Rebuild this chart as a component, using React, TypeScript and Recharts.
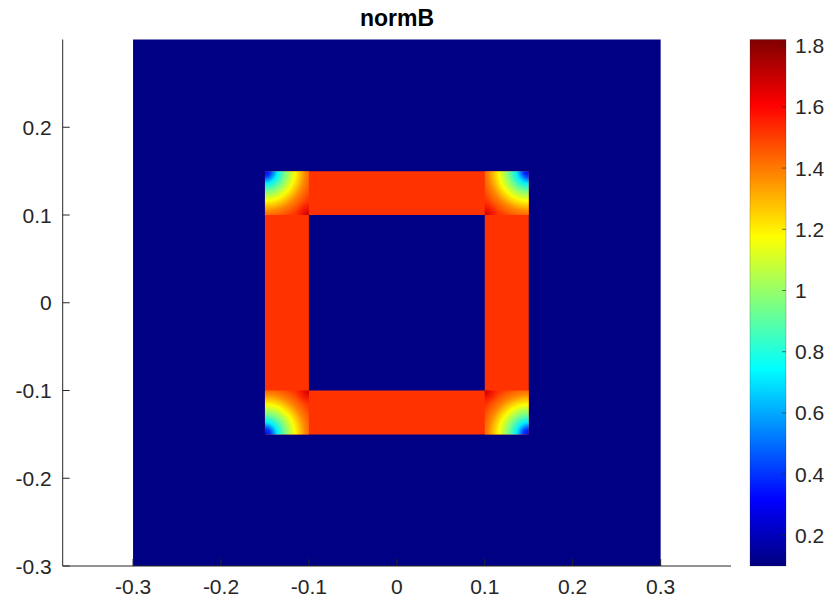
import React from "react";
import { ComposedChart, XAxis, YAxis, ReferenceArea } from "recharts";

// axes
const xTicks = [-0.3, -0.2, -0.1, 0, 0.1, 0.2, 0.3];
const yTicks = [-0.3, -0.2, -0.1, 0, 0.1, 0.2];
const barTicks = [0.2, 0.4, 0.6, 0.8, 1, 1.2, 1.4, 1.6, 1.8];
const xLimits = [-0.38, 0.38];
const yLimits = [-0.3, 0.3];
const cLimits = [0.1, 1.82];

// |B| levels of the regions
const backgroundB = 0.11;
const frameB = 1.52;
const domainBox = [-0.3, 0.3];
const frameOuter = [-0.15, 0.15];
const frameInner = [-0.1, 0.1];

// |B| going in from the outer corner of the frame (distance in corner widths)
const cornerDist = [0, 0.12, 0.28, 0.48, 0.68, 0.92, 1.15, 1.3, 1.414];
const cornerB = [0.28, 0.4, 0.72, 0.97, 1.17, 1.38, 1.5, 1.55, 1.6];
// hot spot at the inner corner
const spotDist = [0, 0.12, 0.32];
const spotB = [1.74, 1.67, 1.6];
const spotAlpha = [0.85, 0.55, 0];

const AXIS = "#262626";
const FONT = "'Liberation Sans', Arial, sans-serif";
const FS = 21;
const TICK_LEN = 7;

const clamp = (v: number) => Math.max(0, Math.min(1, v));

// MATLAB jet colormap
function jetT(t: number) {
  const r = clamp(1.5 - Math.abs(4 * t - 3));
  const g = clamp(1.5 - Math.abs(4 * t - 2));
  const b = clamp(1.5 - Math.abs(4 * t - 1));
  return `rgb(${Math.round(r * 255)},${Math.round(g * 255)},${Math.round(b * 255)})`;
}
const jet = (v: number) => jetT(clamp((v - cLimits[0]) / (cLimits[1] - cLimits[0])));
const jetKnots = [0, 0.125, 0.375, 0.625, 0.875, 1];

// each corner square: outer / inner corner as bounding-box fractions (screen coords)
const corners = [
  { id: "tl", x: [-0.15, -0.1], y: [0.1, 0.15], o: [0, 0], i: [1, 1] },
  { id: "tr", x: [0.1, 0.15], y: [0.1, 0.15], o: [1, 0], i: [0, 1] },
  { id: "bl", x: [-0.15, -0.1], y: [-0.15, -0.1], o: [0, 1], i: [1, 0] },
  { id: "br", x: [0.1, 0.15], y: [-0.15, -0.1], o: [1, 1], i: [0, 0] },
];

const fmt = (v: number) => String(v);

const LeftTick = (p: any) => {
  const ax = p.x + 11;
  return (
    <g>
      <line x1={ax} x2={ax + TICK_LEN} y1={p.y} y2={p.y} stroke={AXIS} />
      <text x={p.x} y={p.y} textAnchor="end" dominantBaseline="central" fill={AXIS} fontSize={FS} fontFamily={FONT}>
        {fmt(p.payload.value)}
      </text>
    </g>
  );
};

const BottomTick = (p: any) => {
  const ay = p.y - 20;
  return (
    <g>
      <line x1={p.x} x2={p.x} y1={ay} y2={ay - TICK_LEN} stroke={AXIS} />
      <text x={p.x} y={p.y} textAnchor="middle" dominantBaseline="central" fill={AXIS} fontSize={FS} fontFamily={FONT}>
        {fmt(p.payload.value)}
      </text>
    </g>
  );
};

const BarTick = (p: any) => {
  const ax = p.x - 9;
  return (
    <g>
      <line x1={ax} x2={ax - 4} y1={p.y} y2={p.y} stroke={AXIS} strokeOpacity={0.6} />
      <text x={p.x} y={p.y} textAnchor="start" dominantBaseline="central" fill={AXIS} fontSize={FS} fontFamily={FONT}>
        {fmt(p.payload.value)}
      </text>
    </g>
  );
};

function FieldMap() {
  return (
    <ComposedChart width={830} height={606} margin={{ top: 39.5, right: 99, bottom: 0, left: 0 }}>
      <defs>
        {corners.map((c) => (
          <radialGradient key={c.id} id={`corner-${c.id}`} cx={c.o[0]} cy={c.o[1]} r={1.414} fx={c.o[0]} fy={c.o[1]}>
            {cornerDist.map((d, k) => (
              <stop key={k} offset={d / 1.414} stopColor={jet(cornerB[k])} />
            ))}
          </radialGradient>
        ))}
        {corners.map((c) => (
          <radialGradient key={c.id} id={`spot-${c.id}`} cx={c.i[0]} cy={c.i[1]} r={spotDist[spotDist.length - 1]} fx={c.i[0]} fy={c.i[1]}>
            {spotDist.map((d, k) => (
              <stop key={k} offset={d / spotDist[spotDist.length - 1]} stopColor={jet(spotB[k])} stopOpacity={spotAlpha[k]} />
            ))}
          </radialGradient>
        ))}
      </defs>
      <XAxis
        type="number"
        dataKey="x"
        domain={xLimits}
        ticks={xTicks}
        allowDataOverflow
        height={40}
        tickSize={0}
        tickMargin={20}
        tickLine={false}
        axisLine={{ stroke: AXIS }}
        tick={<BottomTick />}
        interval={0}
      />
      <YAxis
        type="number"
        dataKey="y"
        domain={yLimits}
        ticks={yTicks}
        allowDataOverflow
        width={62.7}
        tickSize={0}
        tickMargin={11}
        tickLine={false}
        axisLine={{ stroke: AXIS }}
        tick={<LeftTick />}
        interval={0}
      />
      <ReferenceArea x1={domainBox[0]} x2={domainBox[1]} y1={domainBox[0]} y2={domainBox[1]} fill={jet(backgroundB)} fillOpacity={1} stroke="none" />
      <ReferenceArea x1={frameOuter[0]} x2={frameOuter[1]} y1={frameOuter[0]} y2={frameOuter[1]} fill={jet(frameB)} fillOpacity={1} stroke="none" />
      <ReferenceArea x1={frameInner[0]} x2={frameInner[1]} y1={frameInner[0]} y2={frameInner[1]} fill={jet(backgroundB)} fillOpacity={1} stroke="none" />
      {corners.map((c) => (
        <ReferenceArea key={`c-${c.id}`} x1={c.x[0]} x2={c.x[1]} y1={c.y[0]} y2={c.y[1]} fill={`url(#corner-${c.id})`} fillOpacity={1} stroke="none" />
      ))}
      {corners.map((c) => (
        <ReferenceArea key={`s-${c.id}`} x1={c.x[0]} x2={c.x[1]} y1={c.y[0]} y2={c.y[1]} fill={`url(#spot-${c.id})`} fillOpacity={1} stroke="none" />
      ))}
    </ComposedChart>
  );
}

function ColorBar() {
  return (
    <ComposedChart width={130} height={606} margin={{ top: 39.5, right: 0, bottom: 40, left: 50 }}>
      <defs>
        <linearGradient id="jetBar" x1="0" y1="1" x2="0" y2="0">
          {jetKnots.map((t) => (
            <stop key={t} offset={t} stopColor={jetT(t)} />
          ))}
        </linearGradient>
      </defs>
      <XAxis type="number" dataKey="x" domain={[0, 1]} hide allowDataOverflow />
      <YAxis
        type="number"
        dataKey="c"
        orientation="right"
        domain={cLimits}
        ticks={barTicks}
        allowDataOverflow
        width={44}
        tickSize={0}
        tickMargin={9}
        tickLine={false}
        axisLine={false}
        tick={<BarTick />}
        interval={0}
      />
      <ReferenceArea x1={0} x2={1} y1={cLimits[0]} y2={cLimits[1]} fill="url(#jetBar)" fillOpacity={1} stroke={AXIS} strokeOpacity={0.4} strokeWidth={0.6} />
    </ComposedChart>
  );
}

export default function App() {
  return (
    <div style={{ position: "absolute", left: 0, top: 0, width: 830, height: 606, background: "#fff" }}>
      <div style={{ position: "absolute", left: 0, top: 0 }}>
        <FieldMap />
      </div>
      <div style={{ position: "absolute", left: 700, top: 0 }}>
        <ColorBar />
      </div>
      <div
        style={{
          position: "absolute",
          left: 63,
          width: 668,
          top: 4,
          textAlign: "center",
          fontFamily: FONT,
          fontWeight: "bold",
          fontSize: 23,
          lineHeight: "28px",
          color: "#000",
        }}
      >
        normB
      </div>
    </div>
  );
}
